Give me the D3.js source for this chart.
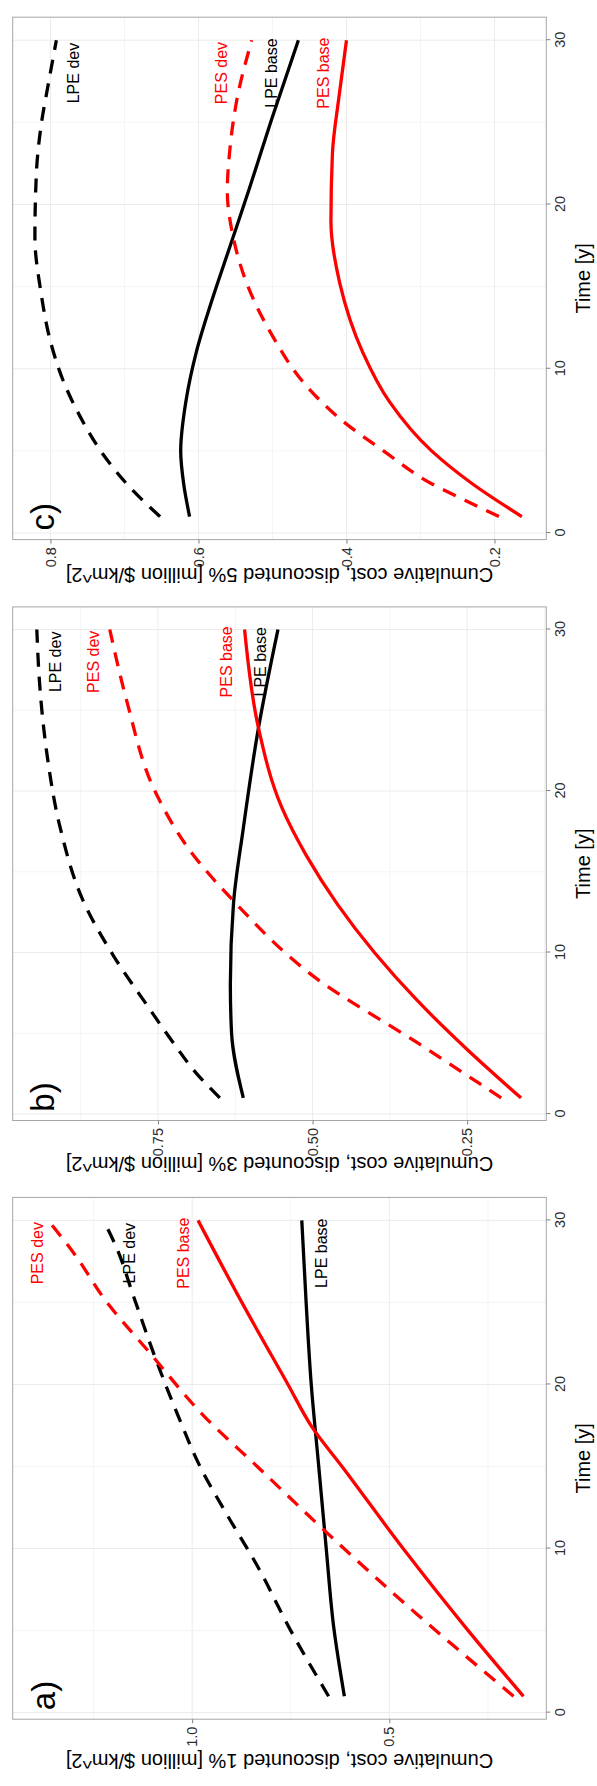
<!DOCTYPE html>
<html><head><meta charset="utf-8">
<script src="https://cdn.jsdelivr.net/npm/d3@7"></script>
<style>
body{margin:0;background:#fff}
svg{display:block}
text{font-family:"Liberation Sans",Arial,Helvetica,sans-serif}
</style>
</head><body>
<svg id="chart" width="597" height="1786"></svg>
<script>
// ---------------- DATA ----------------
const panelLetters = ["a)", "b)", "c)"];
const yTitles = [
  "Cumulative cost, discounted 1% [million $/km^2]",
  "Cumulative cost, discounted 3% [million $/km^2]",
  "Cumulative cost, discounted 5% [million $/km^2]"
];
const xTitle = "Time [y]";
const timeTicks = [0, 10, 20, 30];
const timeMinor = [5, 15, 25];
const timeDomain = [-0.4, 31.4];

const yDomains = [[0.102, 1.455], [0.122, 0.985], [0.130, 0.851]];
const yTicks = [[0.5, 1.0], [0.25, 0.5, 0.75], [0.2, 0.4, 0.6, 0.8]];
const yTickLabels = [["0.5", "1.0"], ["0.25", "0.50", "0.75"], ["0.2", "0.4", "0.6", "0.8"]];
const yMinor = [[0.25, 0.75, 1.25], [0.125, 0.375, 0.625, 0.875], [0.3, 0.5, 0.7]];

// Panel a (1%)
const aLPEbaseT = [1, 5.2, 10, 15, 20, 25, 30];
const aLPEbaseV = [0.614, 0.641, 0.660, 0.679, 0.698, 0.711, 0.722];
const aLPEdevT  = [1, 5, 9, 12, 15, 18, 21.4, 25.4, 28.3, 30];
const aLPEdevV  = [0.654, 0.75, 0.836, 0.91, 0.98, 1.034, 1.09, 1.149, 1.191, 1.225];
const aPESbaseT = [1, 5, 10, 15, 17.4, 20, 25, 30];
const aPESbaseV = [0.16, 0.30, 0.465, 0.62, 0.696, 0.757, 0.874, 0.985];
const aPESdevT  = [1, 6, 11, 15, 18, 22, 25, 28, 30];
const aPESdevV  = [0.185, 0.43, 0.66, 0.835, 0.967, 1.11, 1.216, 1.30, 1.365];

// Panel b (3%)
const bLPEbaseT = [1, 5, 8, 13, 17.7, 23.8, 30];
const bLPEbaseV = [0.612, 0.631, 0.633, 0.628, 0.612, 0.588, 0.556];
const bLPEdevT  = [1, 2.5, 4.4, 6.75, 9.8, 13.2, 17.7, 22.4, 26.4, 30];
const bLPEdevV  = [0.65, 0.6875, 0.725, 0.768, 0.822, 0.871, 0.908, 0.93, 0.941, 0.946];
const bPESbaseT = [1, 4, 7, 10, 13, 16, 19, 24, 30];
const bPESbaseV = [0.163, 0.25, 0.33, 0.40, 0.46, 0.51, 0.55, 0.588, 0.61];
const bPESdevT  = [1, 4.4, 8.4, 13.2, 16.2, 20, 25.5, 30];
const bPESdevV  = [0.195, 0.33, 0.494, 0.628, 0.696, 0.755, 0.80, 0.828];

// Panel c (5%)
const cLPEbaseT = [1, 3, 5, 8, 11, 14, 17.5, 21, 25.2, 30];
const cLPEbaseV = [0.612, 0.620, 0.624, 0.617, 0.603, 0.583, 0.557, 0.531, 0.501, 0.465];
const cLPEdevT  = [1, 2.8, 4.8, 7.1, 9.3, 11.5, 14.7, 18, 21.9, 25, 27.3, 30];
const cLPEdevV  = [0.652, 0.693, 0.729, 0.76, 0.783, 0.799, 0.813, 0.821, 0.819, 0.812, 0.803, 0.792];
const cPESbaseT = [1, 3, 5, 8, 11, 15.2, 19, 23.1, 26.6, 30];
const cPESbaseV = [0.163, 0.23, 0.285, 0.342, 0.378, 0.409, 0.421, 0.419, 0.410, 0.400];
const cPESdevT  = [1, 2, 3, 5, 7, 9, 12, 15, 18, 20.8, 23.6, 26.4, 30];
const cPESdevV  = [0.194, 0.24, 0.285, 0.35, 0.41, 0.455, 0.50, 0.533, 0.553, 0.561, 0.557, 0.548, 0.528];

// Series labels (text, time, value) per panel
const labelNames = ["PES dev", "LPE dev", "PES base", "LPE base"];
const labelTime = 28;
const aLabelV = [1.392, 1.16, 1.022, 0.671];
const bLabelV = [0.855, 0.915, 0.639, 0.585];
const cLabelV = [0.569, 0.769, 0.431, 0.501];
const letterTime = 0.15;
const letterV = [1.378, 0.937, 0.811];

// ---------------- BUILD ----------------
const seriesDefs = [
  {name:"LPE base", color:"#000000", dashed:false},
  {name:"LPE dev",  color:"#000000", dashed:true},
  {name:"PES base", color:"#ff0000", dashed:false},
  {name:"PES dev",  color:"#ff0000", dashed:true}
];
const labelColors = {"PES dev":"#ff0000","PES base":"#ff0000","LPE dev":"#000000","LPE base":"#000000"};

function zipSeries(t, v){ return t.map((d,i)=>({t:d, v:v[i]})); }
const panelSeries = [
  [zipSeries(aLPEbaseT,aLPEbaseV), zipSeries(aLPEdevT,aLPEdevV), zipSeries(aPESbaseT,aPESbaseV), zipSeries(aPESdevT,aPESdevV)],
  [zipSeries(bLPEbaseT,bLPEbaseV), zipSeries(bLPEdevT,bLPEdevV), zipSeries(bPESbaseT,bPESbaseV), zipSeries(bPESdevT,bPESdevV)],
  [zipSeries(cLPEbaseT,cLPEbaseV), zipSeries(cLPEdevT,cLPEdevV), zipSeries(cPESbaseT,cPESbaseV), zipSeries(cPESdevT,cPESdevV)]
];
const panelLabels = [aLabelV, bLabelV, cLabelV];

// layout (landscape coordinates, later rotated -90deg)
const W = 1786, H = 597;
const panelX = [[66.8, 588.6], [665.5, 1179.1], [1246.4, 1768.8]];
const panelTop = 12.7, panelBottom = 546.3;
const yTitleX = [25, 622, 1211];

const svg = d3.select("#chart");
svg.append("rect").attr("width",597).attr("height",1786).attr("fill","#fff");
const root = svg.append("g").attr("transform", `translate(0,${W}) rotate(-90)`);

panelLetters.forEach((letter, p) => {
  const x = d3.scaleLinear().domain(timeDomain).range(panelX[p]);
  const y = d3.scaleLinear().domain(yDomains[p]).range([panelBottom, panelTop]);
  const g = root.append("g");

  g.append("rect").attr("x", panelX[p][0]).attr("y", panelTop)
    .attr("width", panelX[p][1]-panelX[p][0]).attr("height", panelBottom-panelTop)
    .attr("fill", "#fff");

  // minor grid
  g.selectAll(".vmin").data(timeMinor).join("line")
    .attr("x1", d=>x(d)).attr("x2", d=>x(d)).attr("y1", panelTop).attr("y2", panelBottom)
    .attr("stroke", "#f4f4f4").attr("stroke-width", 1);
  g.selectAll(".hmin").data(yMinor[p].filter(v=>v>yDomains[p][0] && v<yDomains[p][1])).join("line")
    .attr("y1", d=>y(d)).attr("y2", d=>y(d)).attr("x1", panelX[p][0]).attr("x2", panelX[p][1])
    .attr("stroke", "#f4f4f4").attr("stroke-width", 1);
  // major grid
  g.selectAll(".vmaj").data(timeTicks).join("line")
    .attr("x1", d=>x(d)).attr("x2", d=>x(d)).attr("y1", panelTop).attr("y2", panelBottom)
    .attr("stroke", "#ebebeb").attr("stroke-width", 1);
  g.selectAll(".hmaj").data(yTicks[p]).join("line")
    .attr("y1", d=>y(d)).attr("y2", d=>y(d)).attr("x1", panelX[p][0]).attr("x2", panelX[p][1])
    .attr("stroke", "#ebebeb").attr("stroke-width", 1);

  // lines
  const line = d3.line().x(d=>x(d.t)).y(d=>y(d.v)).curve(d3.curveMonotoneX);
  seriesDefs.forEach((s, i) => {
    g.append("path").datum(panelSeries[p][i])
      .attr("d", line).attr("fill","none")
      .attr("stroke", s.color).attr("stroke-width", 3.3)
      .attr("stroke-dasharray", s.dashed ? "14,10" : null);
  });

  // series labels
  labelNames.forEach((name, i) => {
    g.append("text").attr("x", x(labelTime)).attr("y", y(panelLabels[p][i]))
      .attr("text-anchor","middle").attr("dominant-baseline","central")
      .attr("font-size", 16).attr("fill", labelColors[name]).text(name);
  });

  // panel letter
  g.append("text").attr("x", x(letterTime)).attr("y", y(letterV[p]))
    .attr("text-anchor","start").attr("dominant-baseline","central")
    .attr("font-size", 33).attr("fill","#000").text(letter);

  // border
  g.append("rect").attr("x", panelX[p][0]).attr("y", panelTop)
    .attr("width", panelX[p][1]-panelX[p][0]).attr("height", panelBottom-panelTop)
    .attr("fill", "none").attr("stroke", "#a6a6a6").attr("stroke-width", 1);

  // axes
  const yAxis = d3.axisLeft(y).tickValues(yTicks[p])
    .tickFormat((d,i)=>yTickLabels[p][i]).tickSize(4).tickPadding(3.5);
  const ya = g.append("g").attr("transform", `translate(${panelX[p][0]},0)`).call(yAxis);
  const xAxis = d3.axisBottom(x).tickValues(timeTicks).tickFormat(d3.format("d")).tickSize(4).tickPadding(4);
  const xa = g.append("g").attr("transform", `translate(0,${panelBottom})`).call(xAxis);
  [ya, xa].forEach(a => {
    a.select(".domain").remove();
    a.selectAll(".tick line").attr("stroke", "#7f7f7f");
    a.selectAll(".tick text").attr("fill", "#2b2b2b").attr("font-size", 14.5)
      .attr("font-family", '"Liberation Sans",Arial,sans-serif');
  });

  // axis titles
  g.append("text").attr("x", (panelX[p][0]+panelX[p][1])/2).attr("y", 583)
    .attr("text-anchor","middle").attr("dominant-baseline","central")
    .attr("font-size", 20).attr("fill","#000").text(xTitle);
  g.append("text")
    .attr("transform", `translate(${yTitleX[p]},${(panelTop+panelBottom)/2}) rotate(-90)`)
    .attr("text-anchor","middle").attr("dominant-baseline","central")
    .attr("font-size", 20).attr("fill","#000").text(yTitles[p]);
});
</script>
</body></html>
